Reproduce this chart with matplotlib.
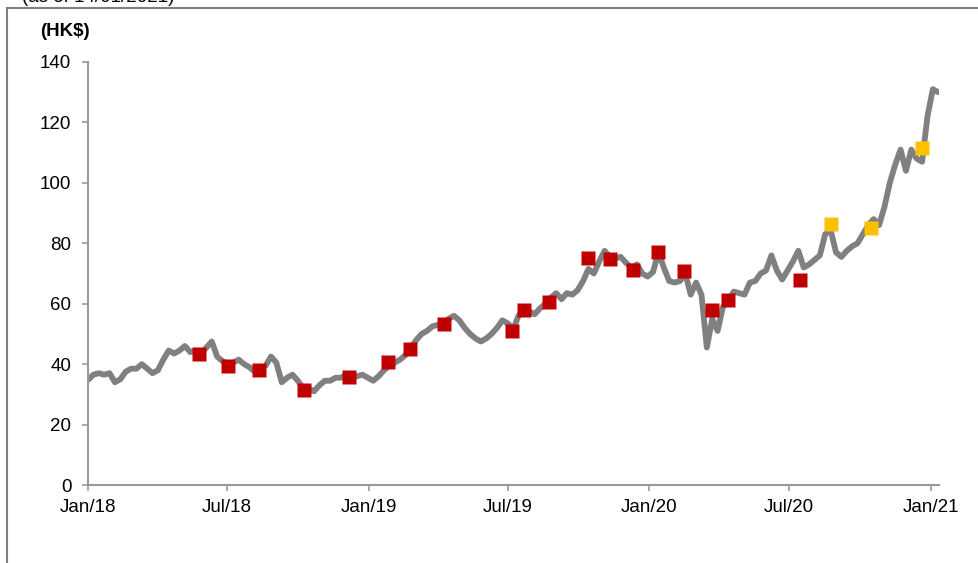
import pandas as pd
import matplotlib
matplotlib.use("Agg")
import matplotlib.pyplot as plt
from matplotlib.lines import Line2D

plt.rcParams['font.family'] = ['Liberation Sans', 'DejaVu Sans']

# Weekly share price (HK$)
start_date = "2018-01-01"
price = [
    34.8, 36.5, 37.0, 36.5, 37.0, 34.0, 35.0, 37.5, 38.5, 38.5,
    40.0, 38.5, 37.0, 38.0, 41.5, 44.5, 43.5, 44.5, 46.0, 44.0,
    44.5, 43.5, 45.5, 47.5, 42.5, 41.0, 40.0, 40.5, 41.5, 40.0,
    39.0, 37.5, 38.0, 39.5, 42.5, 40.5, 34.0, 35.5, 36.5, 34.5,
    32.0, 32.0, 31.0, 33.0, 34.5, 34.5, 35.5, 35.5, 36.5, 35.5,
    36.0, 36.5, 35.5, 34.5, 36.0, 38.0, 39.5, 40.5, 41.5, 43.0,
    45.5, 48.0, 50.0, 51.0, 52.5, 53.0, 53.5, 55.0, 56.0, 54.5,
    52.0, 50.0, 48.5, 47.5, 48.5, 50.0, 52.0, 54.5, 53.5, 51.5,
    56.0, 58.0, 57.5, 56.5, 58.5, 60.0, 62.0, 63.5, 61.5, 63.5,
    63.0, 64.5, 67.5, 71.5, 70.0, 74.0, 77.5, 75.5, 75.0, 75.5,
    73.5, 72.0, 73.0, 70.0, 69.0, 70.5, 77.0, 72.0, 67.5, 67.0,
    67.5, 70.0, 63.0, 67.0, 63.0, 45.5, 55.0, 51.0, 59.0, 61.0,
    64.0, 63.5, 63.0, 67.0, 67.5, 70.0, 71.0, 76.0, 71.0, 68.0,
    71.0, 74.0, 77.5, 72.0, 73.0, 74.5, 76.0, 83.0, 84.5, 77.0,
    75.5, 77.5, 79.0, 80.0, 83.0, 86.0, 88.0, 86.0, 92.0, 100.0,
    106.0, 111.0, 104.0, 111.0, 108.0, 107.0, 122.0, 131.0, 130.0,
]
dates = pd.date_range(start_date, periods=len(price), freq="7D")

# Red markers
red_dates = pd.to_datetime([
    "2018-05-26", "2018-07-02", "2018-08-11", "2018-10-09", "2018-12-07",
    "2019-01-26", "2019-02-24", "2019-04-09", "2019-07-07", "2019-07-22",
    "2019-08-24", "2019-10-13", "2019-11-11", "2019-12-11", "2020-01-12",
    "2020-02-15", "2020-03-23", "2020-04-12", "2020-07-15",
])
red_values = [43.4, 39.4, 37.9, 31.4, 35.7, 40.7, 45.0, 53.3, 51.0, 58.0,
              60.6, 75.0, 74.8, 71.3, 77.0, 70.8, 58.0, 61.2, 68.0]

# Yellow markers
yellow_dates = pd.to_datetime(["2020-08-24", "2020-10-16", "2020-12-21"])
yellow_values = [86.5, 85.2, 111.7]

tick_dates = pd.to_datetime(["2018-01-01", "2018-07-01", "2019-01-01", "2019-07-01",
                             "2020-01-01", "2020-07-01", "2021-01-01"])
tick_labels = ["Jan/18", "Jul/18", "Jan/19", "Jul/19", "Jan/20", "Jul/20", "Jan/21"]

fig = plt.figure(figsize=(9.79, 5.63), dpi=100)
ax = fig.add_axes([88 / 979, 78 / 563, 851 / 979, 423 / 563])

ax.plot(dates, price, color="#808080", lw=4.2, solid_joinstyle="round",
        solid_capstyle="round", zorder=2)
ax.plot(red_dates, red_values, ls="none", marker="s", ms=9.5,
        color="#C00000", mec="none", zorder=3)
ax.plot(yellow_dates, yellow_values, ls="none", marker="s", ms=9.5,
        color="#FFC000", mec="none", zorder=3)

ax.set_ylim(0, 140)
ax.set_yticks(range(0, 141, 20))
ax.set_xlim(pd.Timestamp("2018-01-01"), pd.Timestamp("2021-01-12"))
ax.set_xticks(tick_dates)
ax.set_xticklabels(tick_labels)

for s in ["top", "right"]:
    ax.spines[s].set_visible(False)
for s in ["left", "bottom"]:
    ax.spines[s].set_color("#999999")
    ax.spines[s].set_linewidth(1.5)
ax.tick_params(axis="both", direction="out", length=4, width=1.2,
               color="#999999", labelsize=13.5, labelcolor="black")
ax.tick_params(axis="y", pad=8)
ax.tick_params(axis="x", pad=6)

fig.text(40 / 979, 1 - 31 / 563, "(HK$)", fontsize=13.5, fontweight="bold",
         va="center", ha="left")
# subtitle sits mostly above the top edge, as in the source
fig.text(22 / 979, 1 - 1.5 / 563, "(as of 14/01/2021)", fontsize=13.5,
         va="baseline", ha="left")

# figure frame (top and left edges)
fig.add_artist(Line2D([7 / 979, 1.0], [1 - 8 / 563, 1 - 8 / 563],
                      transform=fig.transFigure, color="#808080", lw=1.5))
fig.add_artist(Line2D([7 / 979, 7 / 979], [0, 1 - 8 / 563],
                      transform=fig.transFigure, color="#808080", lw=1.5))

fig.savefig("out.png", dpi=100)
